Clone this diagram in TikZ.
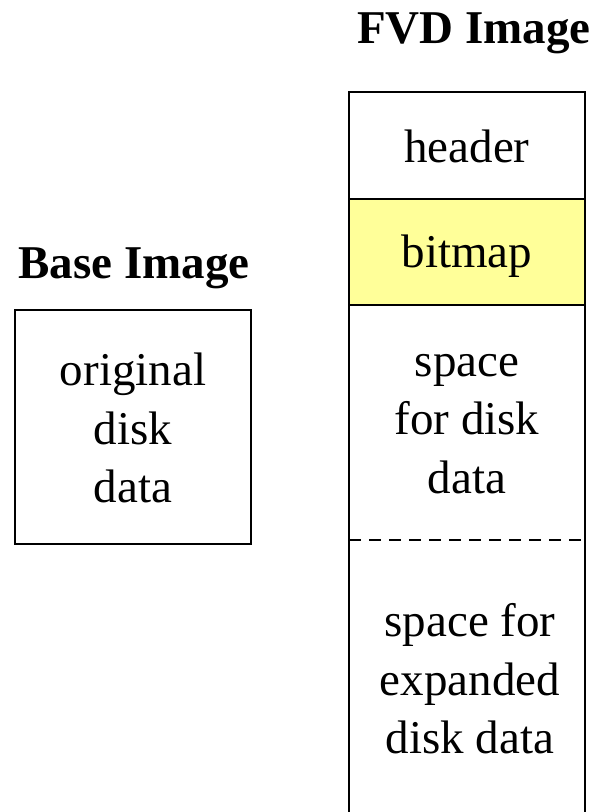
\documentclass[tikz,border=0pt]{standalone}
\usepackage{fontspec}
\setmainfont{Liberation Serif}
\definecolor{bmyellow}{HTML}{FFFF99}
\begin{document}
\begin{tikzpicture}[x=1pt,y=-1pt,
  lbl/.style={inner sep=0pt,align=center,font=\fontsize{47}{58.5}\selectfont},
  ttl/.style={inner sep=0pt,font=\fontsize{47}{56}\selectfont\bfseries},
  frame/.style={draw=black,line width=1.3pt}]
\useasboundingbox (0,0) rectangle (596,812);
% FVD image column
\fill[bmyellow] (349,199) rectangle (585,305);
\draw[frame] (349,812) -- (349,92) -- (585,92) -- (585,812);
\draw[frame] (349,199) -- (585,199);
\draw[frame] (349,305) -- (585,305);
\draw[line width=1.3pt,dash pattern=on 12pt off 8pt] (349,540) -- (585,540);
\node[ttl] (fvdt) at (474,33) {FVD Image};
\node[lbl] (hdr) at (467,146) {header};
\node[lbl] (bmp) at (467,256) {bitmap};
\node[lbl] (spc) at (467,424) {space\\for disk\\data};
\node[lbl] (exp) at (470,679) {space for\\expanded\\disk data};
% Base image
\node[ttl] (baset) at (134,268) {Base Image};
\draw[frame] (15,310) rectangle (251,544);
\node[lbl] (orig) at (133,428) {original\\disk\\data};
\end{tikzpicture}
\end{document}
